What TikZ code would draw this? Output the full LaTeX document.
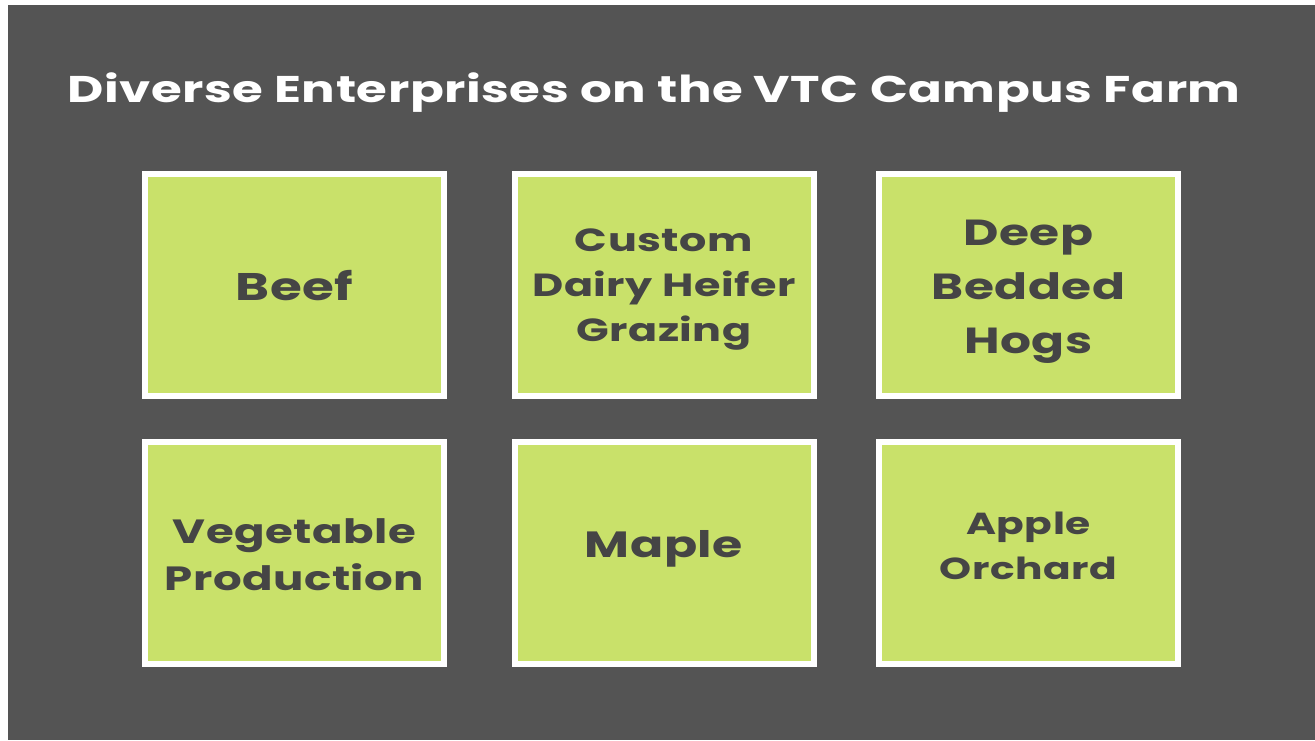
\documentclass[tikz,border=0pt]{standalone}
\usepackage{fontspec}
\setmainfont{Poppins}[FakeStretch=1.34,LetterSpace=1.5]
\definecolor{bg}{HTML}{545454}
\definecolor{cardgreen}{HTML}{C9E16A}
\definecolor{txt}{HTML}{454545}
\newcommand{\fs}[2]{\fontsize{#1}{#2}\selectfont}
\begin{document}
\begin{tikzpicture}[x=1pt,y=-1pt,
  card/.style={draw=white, line width=6pt, fill=cardgreen,
    minimum width=299pt, minimum height=222pt, inner sep=0pt},
  cardtext/.style={text=txt, align=center, inner sep=0pt, font=\bfseries}]
\useasboundingbox (0,0) rectangle (1315,740);
\fill[white] (0,0) rectangle (1315,740);
\fill[bg] (8,5) rectangle (1315,740);
\node[anchor=base, text=white, font=\bfseries\fs{37.2}{40}, inner sep=0pt] (title) at (654,102) {Diverse Enterprises on the VTC Campus Farm};
\node[card] (b1) at (294.5,285) {};
\node[card] (b2) at (664,285) {};
\node[card] (b3) at (1028.5,285) {};
\node[card] (b4) at (294.5,552.5) {};
\node[card] (b5) at (664,552.5) {};
\node[card] (b6) at (1028.5,552.5) {};
\node[cardtext, font=\bfseries\fs{38.5}{46}] (t1) at ([yshift=-1pt]b1) {Beef};
\node[cardtext, font=\bfseries\fs{32}{45}] (t2) at ([yshift=-5pt]b2) {Custom\\Dairy Heifer\\Grazing};
\node[cardtext, font=\bfseries\fs{36.3}{54}] (t3) at ([yshift=-7pt]b3) {Deep\\Bedded\\Hogs};
\node[cardtext, font=\bfseries\fs{33.6}{47}] (t4) at ([yshift=-2pt]b4) {Vegetable\\Production};
\node[cardtext, font=\bfseries\fs{36.5}{48}] (t5) at ([yshift=4pt]b5) {Maple};
\node[cardtext, font=\bfseries\fs{30.4}{45}] (t6) at ([yshift=7pt]b6) {Apple\\Orchard};
\end{tikzpicture}
\end{document}
